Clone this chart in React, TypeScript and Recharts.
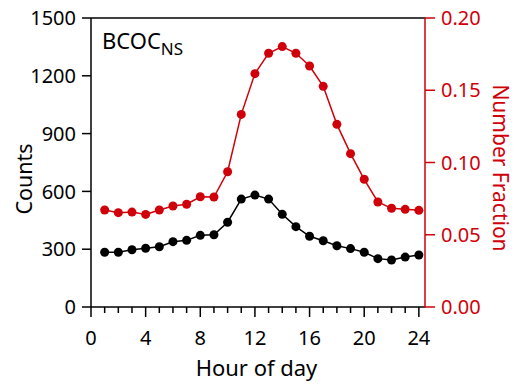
import { LineChart, Line, XAxis, YAxis, ReferenceLine } from 'recharts'

const hours = [1, 2, 3, 4, 5, 6, 7, 8, 9, 10, 11, 12, 13, 14, 15, 16, 17, 18, 19, 20, 21, 22, 23, 24]
const counts = [284, 284, 297, 305, 313, 339, 346, 372, 375, 440, 560, 581, 560, 481, 417, 367, 344, 318, 303, 284, 251, 244, 259, 270]
const fraction = [
  0.0671, 0.0653, 0.0657, 0.0641, 0.0671, 0.0699, 0.0711, 0.0763, 0.0761, 0.0936, 0.1333, 0.1615,
  0.1756, 0.1802, 0.1756, 0.1668, 0.1527, 0.1264, 0.1061, 0.0884, 0.0727, 0.0683, 0.0676, 0.0669,
]
const hourTicks = [0, 1, 2, 3, 4, 5, 6, 7, 8, 9, 10, 11, 12, 13, 14, 15, 16, 17, 18, 19, 20, 21, 22, 23, 24]
const countTicks = [0, 300, 600, 900, 1200, 1500]
const fractionTicks = [0, 0.05, 0.1, 0.15, 0.2]

const RED = '#d0000a'
const FONT = '"Noto Sans", "Open Sans", sans-serif'

const data = hours.map((h, i) => ({ hour: h, counts: counts[i], fraction: fraction[i] }))

function HourTick({ x, y, payload }: any) {
  const major = payload.value % 4 === 0
  return (
    <g>
      <line x1={x} x2={x} y1={y} y2={y + (major ? 10 : 6)} stroke="#000" strokeWidth={1.5} />
      {major && (
        <text x={x} y={y + 38} textAnchor="middle" fontSize={20} fill="#000" fontFamily={FONT}>
          {payload.value}
        </text>
      )}
    </g>
  )
}

export default function App() {
  return (
    <div style={{ position: 'absolute', left: 0, top: 0, background: '#fff' }}>
      <LineChart width={516} height={385} data={data} margin={{ top: 18, right: 0, bottom: 0, left: 0 }}>
        <XAxis
          dataKey="hour"
          type="number"
          domain={[0, 24.45]}
          ticks={hourTicks}
          interval={0}
          height={78}
          tickSize={0}
          tickMargin={0}
          tickLine={false}
          tick={<HourTick />}
          axisLine={{ stroke: '#000', strokeWidth: 1.5 }}
          label={{
            content: ({ viewBox }: any) => (
              <text x={viewBox.x + 165.5} y={viewBox.y + 69} textAnchor="middle" fontSize={22} fontFamily={FONT} fill="#000">
                Hour of day
              </text>
            ),
          }}
        />
        <YAxis
          yAxisId="left"
          domain={[0, 1500]}
          ticks={countTicks}
          width={91}
          tickSize={9}
          tickMargin={6}
          tick={{ fill: '#000', fontSize: 20, fontFamily: FONT }}
          tickLine={{ stroke: '#000', strokeWidth: 1.5 }}
          axisLine={{ stroke: '#000', strokeWidth: 1.5 }}
          label={{
            content: ({ viewBox }: any) => {
              const cx = viewBox.x + 23
              const cy = viewBox.y + 161
              return (
                <text x={cx} y={cy} transform={`rotate(-90 ${cx} ${cy})`} textAnchor="middle" dominantBaseline="central" fontSize={21.5} fontFamily={FONT} fill="#000">
                  Counts
                </text>
              )
            },
          }}
        />
        <YAxis
          yAxisId="right"
          orientation="right"
          domain={[0, 0.2]}
          ticks={fractionTicks}
          width={91}
          tickSize={10}
          tickMargin={6}
          tickFormatter={(v: number) => v.toFixed(2)}
          tick={{ fill: RED, fontSize: 20, fontFamily: FONT }}
          tickLine={{ stroke: RED, strokeWidth: 1.5 }}
          axisLine={{ stroke: RED, strokeWidth: 1.5 }}
          label={{
            content: ({ viewBox }: any) => {
              const cx = viewBox.x + 76
              const cy = viewBox.y + 150
              return (
                <text x={cx} y={cy} transform={`rotate(90 ${cx} ${cy})`} textAnchor="middle" dominantBaseline="central" fontSize={21} fontFamily={FONT} fill={RED}>
                  Number Fraction
                </text>
              )
            },
          }}
        />
        <ReferenceLine
          yAxisId="left"
          y={1500}
          stroke="#000"
          strokeWidth={1.5}
          label={{
            content: ({ viewBox }: any) => (
              <text x={viewBox.x + 11} y={viewBox.y + 31} fontFamily={FONT} fill="#000">
                <tspan fontSize={22}>BCOC</tspan>
                <tspan fontSize={17} dy={6}>NS</tspan>
              </text>
            ),
          }}
        />
        <Line
          yAxisId="right"
          dataKey="fraction"
          stroke={RED}
          strokeWidth={1.5}
          dot={{ r: 4.5, fill: RED, stroke: RED, strokeWidth: 0 }}
          isAnimationActive={false}
        />
        <Line
          yAxisId="left"
          dataKey="counts"
          stroke="#000"
          strokeWidth={1.5}
          dot={{ r: 4.5, fill: '#000', stroke: '#000', strokeWidth: 0 }}
          isAnimationActive={false}
        />
      </LineChart>
    </div>
  )
}
